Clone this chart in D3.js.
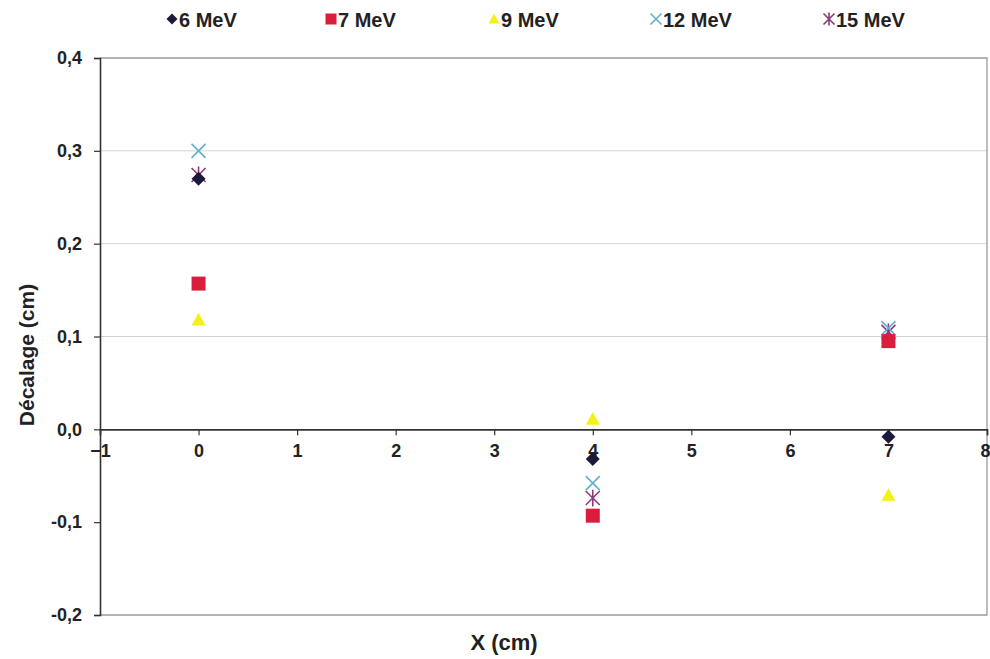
<!DOCTYPE html>
<html>
<head>
<meta charset="utf-8">
<script src="https://cdn.jsdelivr.net/npm/d3@7"></script>
<style>
  html, body { margin: 0; padding: 0; background: #fff; }
  svg { display: block; font-family: "Liberation Sans Narrow", "Arial Narrow", Arial, sans-serif; }
</style>
</head>
<body>
<svg id="chart" width="990" height="659"></svg>
<script>
// Beam energies and measured offsets at each X position
const series = ["6 MeV", "7 MeV", "9 MeV", "12 MeV", "15 MeV"];
const xPositions = [0, 4, 7];
const offset6 = [0.270, -0.032, -0.008];
const offset7 = [0.157, -0.093, 0.095];
const offset9 = [0.118, 0.011, -0.071];
const offset12 = [0.300, -0.058, 0.109];
const offset15 = [0.274, -0.074, 0.105];
const xTicks = [-1, 0, 1, 2, 3, 4, 5, 6, 7, 8];
const yTicks = [-0.2, -0.1, 0.0, 0.1, 0.2, 0.3, 0.4];

const values = [offset6, offset7, offset9, offset12, offset15];
const colors = ["#1c1a3a", "#d81e3c", "#f2f21a", "#5fb0cc", "#8e3a78"];
const shapes = ["diamond", "square", "triangle", "x", "star"];

const svg = d3.select("#chart");
const L = 100, R = 987, T = 58, B = 615;

const x = d3.scaleLinear().domain([-1, 8]).range([L, R]);
const y = d3.scaleLinear().domain([-0.2, 0.4]).range([B, T]);
const fmt = v => d3.format(".1f")(v).replace(".", ",").replace("−", "-");

// gridlines
svg.append("g").selectAll("line")
  .data(yTicks.filter(v => v > 0 && v < 0.4))
  .join("line")
  .attr("x1", L).attr("x2", R)
  .attr("y1", d => y(d)).attr("y2", d => y(d))
  .attr("stroke", "#cfd3d8").attr("stroke-width", 1);

// plot area frame (top, right, bottom)
svg.append("path")
  .attr("d", `M${L},${T}H${R}V${B}H${L}`)
  .attr("fill", "none").attr("stroke", "#9a9a9a").attr("stroke-width", 1.3);

// y axis
const yAxis = svg.append("g")
  .attr("transform", `translate(${L},0)`)
  .call(d3.axisLeft(y).tickValues(yTicks).tickFormat(fmt).tickSize(6).tickPadding(12));
yAxis.select(".domain").attr("stroke", "#333").attr("stroke-width", 1.6);
yAxis.selectAll(".tick line").attr("stroke", "#333").attr("stroke-width", 1.2);
yAxis.selectAll(".tick text")
  .attr("font-size", 18).attr("font-weight", "bold").attr("fill", "#222");

// x axis drawn through y = 0
const xAxis = svg.append("g")
  .attr("transform", `translate(0,${y(0)})`)
  .call(d3.axisBottom(x).tickValues(xTicks).tickFormat(d3.format("d")).tickSize(6).tickPadding(9));
xAxis.select(".domain").attr("stroke", "#333").attr("stroke-width", 1.6);
xAxis.selectAll(".tick line").attr("stroke", "#333").attr("stroke-width", 1.2);
xAxis.selectAll(".tick text")
  .attr("font-size", 18).attr("font-weight", "bold").attr("fill", "#222")
  .filter(d => d === 8).attr("text-anchor", "end").attr("dx", 3);

// axis titles
svg.append("text")
  .attr("x", 504).attr("y", 650)
  .attr("text-anchor", "middle")
  .attr("font-size", 22).attr("font-weight", "bold").attr("fill", "#222")
  .text("X (cm)");
svg.append("text")
  .attr("transform", `translate(34,355) rotate(-90)`)
  .attr("text-anchor", "middle")
  .attr("font-size", 21).attr("font-weight", "bold").attr("fill", "#222")
  .text("Décalage (cm)");

// marker drawing
function drawMarker(g, shape, color, cx, cy, s) {
  if (shape === "diamond") {
    g.append("path").attr("d", `M${cx},${cy - s}L${cx + s},${cy}L${cx},${cy + s}L${cx - s},${cy}Z`)
      .attr("fill", color);
  } else if (shape === "square") {
    g.append("rect").attr("x", cx - s).attr("y", cy - s).attr("width", 2 * s).attr("height", 2 * s)
      .attr("fill", color);
  } else if (shape === "triangle") {
    g.append("path").attr("d", `M${cx},${cy - s}L${cx + s},${cy + s * 0.8}L${cx - s},${cy + s * 0.8}Z`)
      .attr("fill", color);
  } else if (shape === "x") {
    g.append("path").attr("d", `M${cx - s},${cy - s}L${cx + s},${cy + s}M${cx - s},${cy + s}L${cx + s},${cy - s}`)
      .attr("stroke", color).attr("stroke-width", 1.6);
  } else if (shape === "star") {
    g.append("path").attr("d", `M${cx - s},${cy - s}L${cx + s},${cy + s}M${cx - s},${cy + s}L${cx + s},${cy - s}M${cx},${cy - s * 1.2}V${cy + s * 1.2}`)
      .attr("stroke", color).attr("stroke-width", 1.6);
  }
}

// markers, drawn in reverse so the lower-energy points sit on top
const pts = svg.append("g");
for (let i = series.length - 1; i >= 0; i--) {
  xPositions.forEach((xp, j) => {
    drawMarker(pts, shapes[i], colors[i], x(xp), y(values[i][j]), 7);
  });
}

// legend
const legendX = [172, 331, 494, 656, 829];
const leg = svg.append("g");
series.forEach((name, i) => {
  drawMarker(leg, shapes[i], colors[i], legendX[i], 19, 5.5);
  leg.append("text")
    .attr("x", legendX[i] + 7).attr("y", 27)
    .attr("font-size", 20).attr("font-weight", "bold").attr("fill", "#222")
    .text(name);
});
</script>
</body>
</html>
